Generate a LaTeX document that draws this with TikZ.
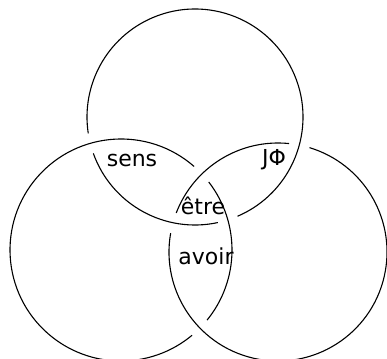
\documentclass[tikz,border=0pt]{standalone}
\usepackage{fontspec}
\setsansfont{DejaVu Sans}
\usetikzlibrary{positioning}

\begin{document}
\begin{tikzpicture}[
    x=1pt, y=1pt,
    ring/.style={draw, line width=1.1pt},
    word/.style={font=\sffamily\fontsize{22}{24}\selectfont, inner sep=1pt}
]
\useasboundingbox (0,0) rectangle (387,358);

% centres of the three rings
\coordinate (top) at (195,241);
\coordinate (left) at (121,108);
\coordinate (right) at (278,106);

% top ring (goes under the left ring)
\draw[ring] ([shift={(-66.8:108pt)}]top) arc[start angle=-66.8, end angle=188.7, radius=108pt];
\draw[ring] ([shift={(199.7:108pt)}]top) arc[start angle=199.7, end angle=282.2, radius=108pt];

% left ring (goes under the right ring)
\draw[ring] ([shift={(48.8:111pt)}]left) arc[start angle=48.8, end angle=309.8, radius=111pt];
\draw[ring] ([shift={(-39.2:111pt)}]left) arc[start angle=-39.2, end angle=37.8, radius=111pt];

% right ring (goes under the top ring)
\draw[ring] ([shift={(84.2:109pt)}]right) arc[start angle=84.2, end angle=159.0, radius=109pt];
\draw[ring] ([shift={(170.0:109pt)}]right) arc[start angle=170.0, end angle=433.2, radius=109pt];

% labels
\node[word] (sens) at (132,198) {sens};
\node[word] (jphi) at (274,198) {JΦ};
\node[word] (etre) at (203,152) {être};
\node[word] (avoir) at (206,102) {avoir};

\end{tikzpicture}
\end{document}
